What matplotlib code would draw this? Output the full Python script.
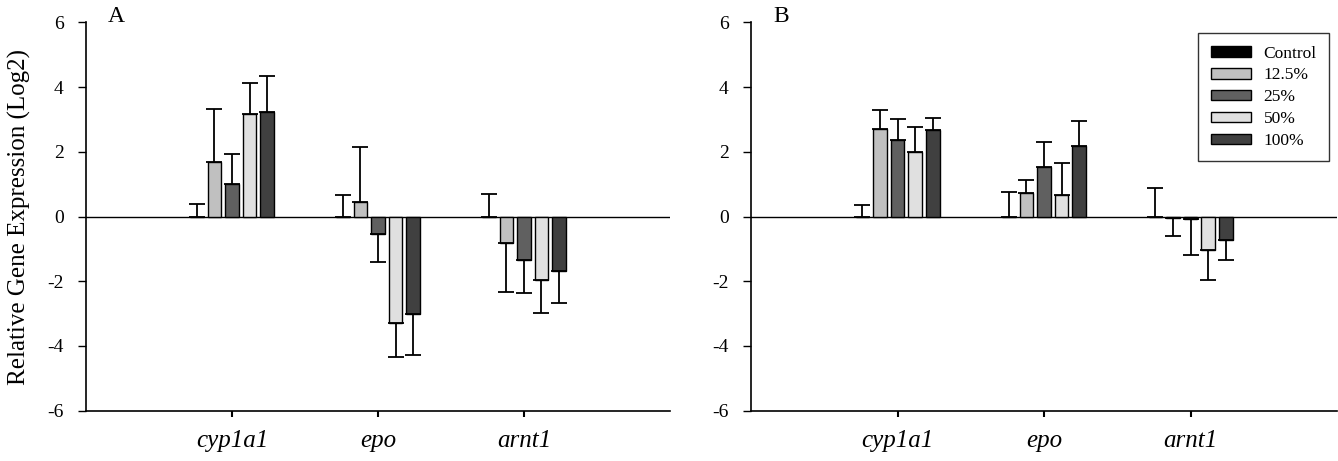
import numpy as np
import matplotlib
matplotlib.use("Agg")
import matplotlib.pyplot as plt

plt.rcParams['font.family'] = ['Liberation Serif', 'DejaVu Serif']
plt.rcParams['axes.unicode_minus'] = False

genes = ["cyp1a1", "epo", "arnt1"]
groups = ["Control", "12.5%", "25%", "50%", "100%"]
colors = ["#000000", "#c0c0c0", "#606060", "#e0e0e0", "#404040"]

# panel A: mean log2 expression, rows = treatment, cols = gene
a_mean = [[0.0, 0.0, 0.0],
          [1.70, 0.45, -0.83],
          [1.02, -0.54, -1.33],
          [3.17, -3.28, -1.97],
          [3.24, -3.03, -1.69]]
a_err = [[0.40, 0.65, 0.70],
         [1.62, 1.70, 1.50],
         [0.90, 0.86, 1.05],
         [0.97, 1.06, 1.00],
         [1.10, 1.24, 1.00]]

# panel B
b_mean = [[0.0, 0.0, 0.0],
          [2.70, 0.72, -0.05],
          [2.38, 1.53, -0.08],
          [2.01, 0.65, -1.05],
          [2.66, 2.18, -0.73]]
b_err = [[0.35, 0.75, 0.87],
         [0.58, 0.42, 0.55],
         [0.65, 0.78, 1.12],
         [0.76, 1.01, 0.90],
         [0.39, 0.76, 0.60]]


def draw_panel(ax, means, errs, letter):
    x = np.arange(1, len(genes) + 1)
    step = 0.12
    width = 0.093
    for i, name in enumerate(groups):
        m = np.array(means[i])
        e = np.array(errs[i])
        # one-sided error bars, in the direction of the bar
        lower = np.where(m < 0, e, 0)
        upper = np.where(m >= 0, e, 0)
        pos = x + (i - 2) * step
        ax.bar(pos, m, width, color=colors[i], edgecolor="black",
               linewidth=1.0, label=name, zorder=2)
        ax.errorbar(pos, m, yerr=[lower, upper], fmt="none", ecolor="black",
                    elinewidth=1.3, capsize=6, capthick=1.3, zorder=3)

    ax.axhline(0, color="black", linewidth=1.0, zorder=1)
    ax.set_xlim(0, 4)
    ax.set_ylim(-6, 6)
    ax.set_yticks(range(-6, 7, 2))
    ax.set_xticks(x)
    ax.set_xticklabels(genes, fontstyle="italic", fontsize=18)
    ax.tick_params(axis="y", labelsize=14, direction="out", length=6, width=1, pad=10)
    ax.tick_params(axis="x", direction="out", length=4, width=1.5, pad=10)
    for s in ["top", "right"]:
        ax.spines[s].set_visible(False)
    for s in ["left", "bottom"]:
        ax.spines[s].set_linewidth(1.2)
    ax.text(0.038, 1.0, letter, transform=ax.transAxes, fontsize=17,
            va="baseline", ha="left")


fig = plt.figure(figsize=(13.38, 4.61), dpi=100)
ax1 = fig.add_axes([0.0643, 0.1095, 0.4364, 0.8417])
ax2 = fig.add_axes([0.5613, 0.1095, 0.4380, 0.8417])

draw_panel(ax1, a_mean, a_err, "A")
draw_panel(ax2, b_mean, b_err, "B")

ax1.set_ylabel("Relative Gene Expression (Log2)", fontsize=18, labelpad=12)

leg = ax2.legend(loc="upper right", bbox_to_anchor=(0.986, 0.972), fontsize=12.5,
                 frameon=True, fancybox=False, edgecolor="black",
                 handlelength=2.3, handleheight=0.55, labelspacing=0.34,
                 borderpad=0.7, handletextpad=0.75, borderaxespad=0.0)
leg.get_frame().set_linewidth(1.0)

fig.savefig("out.png", dpi=100)
